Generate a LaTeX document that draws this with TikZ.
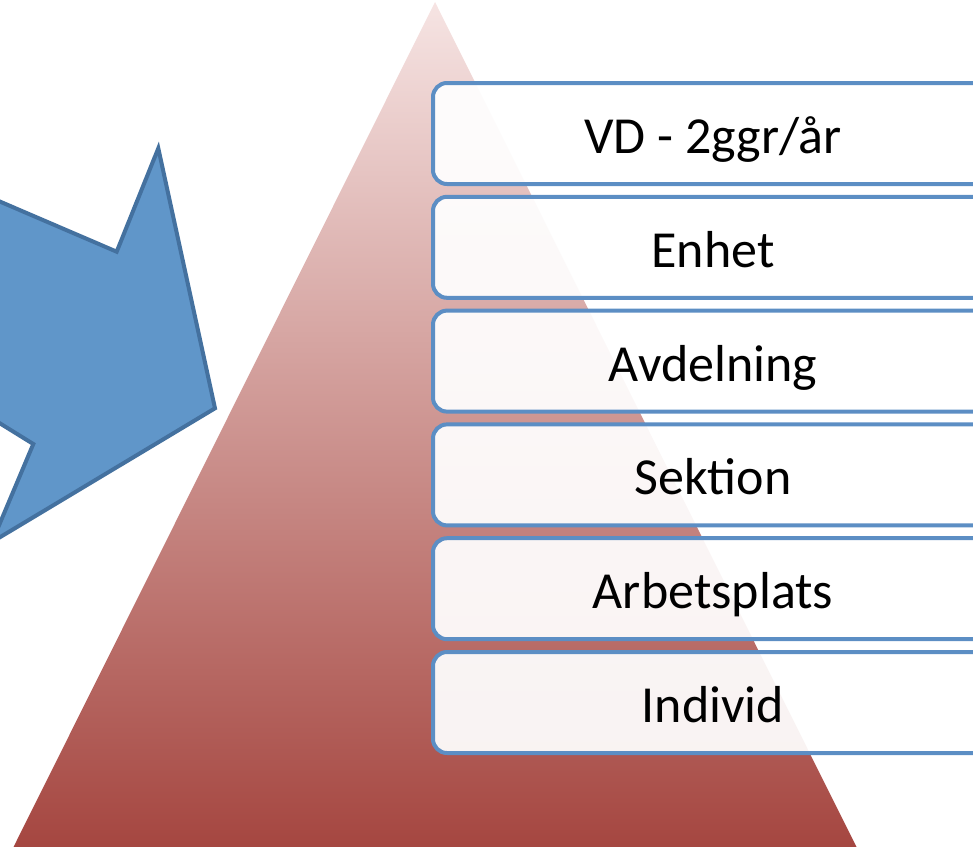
\documentclass[tikz,border=0pt]{standalone}
\usepackage{fontspec}
\setmainfont{Carlito}
\definecolor{arrowfill}{RGB}{96,150,201}
\definecolor{arrowline}{RGB}{68,113,159}
\definecolor{boxline}{RGB}{92,142,196}
\definecolor{pyrtop}{RGB}{246,228,227}
\definecolor{pyrmid}{RGB}{216,152,148}
\definecolor{pyrbot}{RGB}{165,70,64}
\begin{document}
\begin{tikzpicture}[x=1pt,y=-1pt,
  levelbox/.style={draw=boxline, line width=4pt, rounded corners=14pt,
    fill=white, fill opacity=0.93, text opacity=1,
    minimum width=560pt, minimum height=101pt, inner sep=0pt,
    text height=40pt, text depth=0pt, font=\fontsize{52}{60}\selectfont}]
\useasboundingbox (0,0) rectangle (973,846);
\clip (0,0) rectangle (973,846);
% pyramid
\shade[top color=pyrtop, middle color=pyrmid, bottom color=pyrbot]
  (435,2) -- (857,848) -- (13,848) -- cycle;
% arrow
\draw[draw=arrowline, fill=arrowfill, line width=4pt, line join=miter]
  (-20,193) -- (116.7,251.7) -- (158.3,148.3) -- (215,408.3) -- (-8,542)
  -- (33.3,444) -- (-20,411) -- cycle;
% level boxes
\node[levelbox] (l1) at (713,133.5) {VD - 2ggr/år};
\node[levelbox] (l2) at (713,247.3) {Enhet};
\node[levelbox] (l3) at (713,361.1) {Avdelning};
\node[levelbox] (l4) at (713,474.9) {Sektion};
\node[levelbox] (l5) at (713,588.7) {Arbetsplats};
\node[levelbox] (l6) at (713,702.5) {Individ};
\end{tikzpicture}
\end{document}
